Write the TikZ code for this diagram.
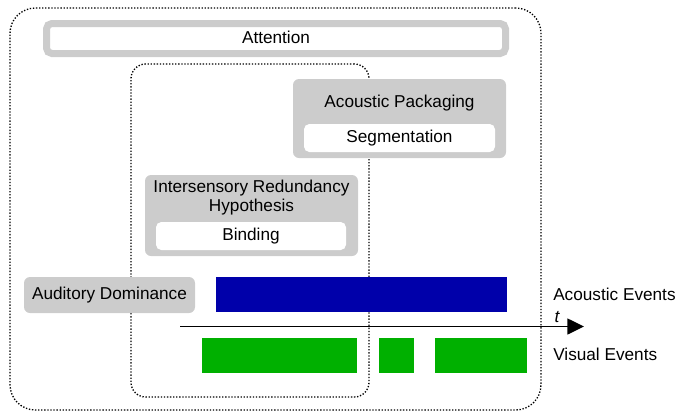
\documentclass[tikz,border=0pt]{standalone}
\usepackage{fontspec}
\setmainfont{Liberation Sans}
\usepackage{xcolor}
\usetikzlibrary{arrows.meta,positioning}
\definecolor{shade}{HTML}{CCCCCC}
\definecolor{acou}{HTML}{0000AA}
\definecolor{visu}{HTML}{00B000}

\begin{document}
\begin{tikzpicture}[
  x=0.75pt, y=-0.75pt,
  every node/.style={font=\fontsize{12.9}{14}\selectfont, inner sep=0pt,
                     text height=0.72em, text depth=0pt},
  zone/.style={draw, dash pattern=on 1pt off 1.3pt, line width=1pt},
  gbox/.style={fill=shade, rounded corners=4.5pt},
  wbox/.style={fill=white, rounded corners=4pt},
  ring/.style={draw=shade, line width=5.25pt, fill=white, rounded corners=4pt},
  ev/.style={minimum height=26.25pt},
  lab/.style={anchor=west},
  arr/.style={-{Triangle[length=12.5pt, width=12pt]}, line width=1.1pt}
]
\useasboundingbox (0,0) rectangle (676,412);
% containers
\node[zone, rounded corners=19pt, minimum width=398.25pt, minimum height=301.5pt] (attzone) at (275.5,209) {};
\node[zone, rounded corners=11pt, minimum width=178.5pt, minimum height=249.75pt] (irhzone) at (250,230.5) {};
% attention
\node[ring, minimum width=344.25pt, minimum height=22.5pt] (att) at (276,38.5) {Attention};
% acoustic packaging
\node[gbox, minimum width=159.75pt, minimum height=59.25pt] (pack) at (399.5,118.5) {};
\node (packlab) at (399.5,103) {Acoustic Packaging};
\node[wbox, minimum width=143.25pt, minimum height=21pt] (seg) at (399.5,138) {Segmentation};
% intersensory redundancy
\node[gbox, minimum width=159.75pt, minimum height=60.75pt] (irh) at (251.5,215.5) {};
\node[align=center, text height=, text depth=, font=\fontsize{12.9}{14.5}\selectfont] (irhlab) at (251.5,197.5) {Intersensory Redundancy\\Hypothesis};
\node[wbox, minimum width=142.5pt, minimum height=21pt] (bind) at (251,236) {Binding};
% auditory dominance
\node[gbox, minimum width=128.25pt, minimum height=27pt] (aud) at (109.5,295) {Auditory Dominance};
% events
\node[ev, fill=acou, minimum width=218.25pt] (snd) at (361.5,294.5) {};
\node[ev, fill=visu, minimum width=116.25pt] (vis1) at (279.5,355.5) {};
\node[ev, fill=visu, minimum width=26.25pt] (vis2) at (396.5,355.5) {};
\node[ev, fill=visu, minimum width=69pt] (vis3) at (481,355.5) {};
\coordinate (t0) at (180,326.5);
\coordinate (t1) at (584,326.5);
\draw[arr] (t0) -- (t1);
\node[font=\fontsize{12.9}{14}\selectfont\itshape] (tlab) at (557,318) {t};
\node[lab] (sndlab) at (553,296) {Acoustic Events};
\node[lab] (vislab) at (553,356) {Visual Events};
\end{tikzpicture}
\end{document}
